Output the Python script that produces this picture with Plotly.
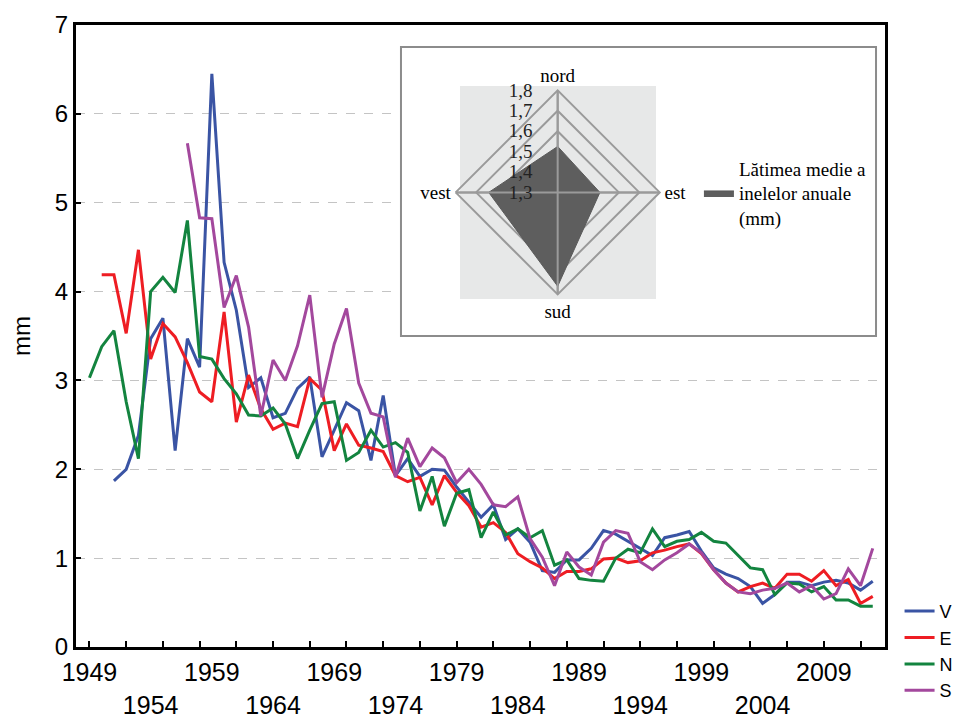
import plotly.graph_objects as go

years = list(range(1949, 2014))

V = [None, None, 1.87, 2.00, 2.38, 3.47, 3.70, 2.21, 3.47, 3.15,
     6.45, 4.33, 3.79, 2.92, 3.03, 2.58, 2.63, 2.91, 3.04, 2.14,
     2.44, 2.75, 2.66, 2.10, 2.83, 1.93, 2.12, 1.92, 2.00, 1.99,
     1.80, 1.63, 1.46, 1.60, 1.21, 1.33, 1.18, 0.86, 0.84, 0.98,
     0.98, 1.11, 1.31, 1.27, 1.19, 1.11, 1.03, 1.23, 1.26, 1.30,
     1.08, 0.89, 0.82, 0.77, 0.68, 0.49, 0.59, 0.73, 0.73, 0.69,
     0.73, 0.75, 0.72, 0.64, 0.74]

E = [None, 4.19, 4.19, 3.53, 4.47, 3.24, 3.64, 3.49, 3.20, 2.87,
     2.76, 3.77, 2.53, 3.06, 2.68, 2.45, 2.52, 2.48, 3.02, 2.89,
     2.21, 2.51, 2.27, 2.24, 2.20, 1.93, 1.86, 1.91, 1.60, 1.93,
     1.74, 1.59, 1.35, 1.40, 1.29, 1.05, 0.96, 0.89, 0.77, 0.85,
     0.85, 0.88, 0.99, 1.00, 0.95, 0.97, 1.06, 1.09, 1.13, 1.16,
     1.05, 0.87, 0.72, 0.62, 0.68, 0.72, 0.66, 0.82, 0.82, 0.74,
     0.86, 0.69, 0.76, 0.49, 0.57]

N = [3.03, 3.38, 3.56, 2.76, 2.12, 4.00, 4.16, 3.99, 4.80, 3.27,
     3.24, 3.02, 2.85, 2.61, 2.60, 2.69, 2.51, 2.12, 2.44, 2.74,
     2.76, 2.10, 2.19, 2.44, 2.25, 2.30, 2.19, 1.53, 1.92, 1.36,
     1.73, 1.77, 1.23, 1.52, 1.26, 1.33, 1.23, 1.31, 0.92, 0.98,
     0.77, 0.75, 0.74, 1.00, 1.10, 1.06, 1.33, 1.13, 1.19, 1.21,
     1.29, 1.19, 1.17, 1.03, 0.89, 0.87, 0.59, 0.72, 0.71, 0.62,
     0.68, 0.53, 0.53, 0.46, 0.46]

S = [None, None, None, None, None, None, None, None, 5.67, 4.83,
     4.82, 3.82, 4.18, 3.60, 2.60, 3.23, 3.00, 3.39, 3.96, 2.81,
     3.41, 3.81, 2.97, 2.63, 2.59, 1.91, 2.35, 2.03, 2.24, 2.13,
     1.85, 2.00, 1.83, 1.60, 1.58, 1.69, 1.22, 1.01, 0.69, 1.07,
     0.90, 0.81, 1.18, 1.31, 1.28, 0.96, 0.87, 0.98, 1.06, 1.16,
     1.06, 0.87, 0.72, 0.62, 0.60, 0.64, 0.66, 0.72, 0.62, 0.69,
     0.54, 0.60, 0.88, 0.69, 1.11]

series_names = ["V", "E", "N", "S"]
series_colors = ["#3A54A4", "#EE1D23", "#13843F", "#A3489D"]

tick_years = list(range(1949, 2014, 3))
label_years = list(range(1949, 2014, 5))
label_text = [str(y) if i % 2 == 0 else "<br>" + str(y)
              for i, y in enumerate(label_years)]

radar_dirs = ["nord", "est", "sud", "vest"]
radar_vals = [1.525, 1.507, 1.76, 1.638]
radar_name = "Lătimea medie a<br>inelelor anuale<br>(mm)"
radar_ticks = [1.3, 1.4, 1.5, 1.6, 1.7, 1.8]

SANS = "Liberation Sans, Arial, sans-serif"
SERIF = "Liberation Serif, Times New Roman, serif"

fig = go.Figure()
for name, vals, col in zip(series_names, [V, E, N, S], series_colors):
    fig.add_trace(go.Scatter(x=years, y=vals, name=name, mode="lines",
                             line=dict(color=col, width=3),
                             connectgaps=False))

# radar inset
fig.add_trace(go.Scatterpolar(
    r=radar_vals + radar_vals[:1], theta=radar_dirs + radar_dirs[:1],
    fill="toself", fillcolor="#5E5E5E", mode="lines",
    line=dict(color="#5A5A5A", width=1), name=radar_name,
    legend="legend2", subplot="polar"))
rmin, rmax = radar_ticks[0], radar_ticks[-1]
fig.add_trace(go.Scatterpolar(
    r=[rmax, rmin, rmax, None, rmax, rmin, rmax],
    theta=[radar_dirs[0], radar_dirs[0], radar_dirs[2], None,
           radar_dirs[3], radar_dirs[3], radar_dirs[1]],
    mode="lines", line=dict(color="#9A9A9A", width=2),
    showlegend=False, hoverinfo="skip", subplot="polar"))

xr = [1947.9, 2014.0]
yr = [0, 7]


def fx(f):
    return xr[0] + f * (xr[1] - xr[0])


def fy(f):
    return yr[0] + f * (yr[1] - yr[0])


fig.update_layout(
    width=955, height=712,
    margin=dict(l=68, r=78, t=17, b=73, autoexpand=False),
    paper_bgcolor="white", plot_bgcolor="white",
    separators=", ",
    font=dict(family=SANS, size=22, color="black"),
    xaxis=dict(range=xr, tickmode="array", tickvals=label_years,
               ticktext=label_text, ticks="", tickfont=dict(size=25),
               ticklabelstandoff=1,
               minor=dict(tickmode="array", tickvals=tick_years,
                          ticks="inside", ticklen=6, tickwidth=2,
                          tickcolor="black", showgrid=False),
               showline=True, linecolor="black", linewidth=3, mirror=True,
               showgrid=False, zeroline=False, automargin=False),
    yaxis=dict(range=yr, tickmode="linear", tick0=0, dtick=1,
               ticks="inside", ticklen=5, tickwidth=2, tickcolor="black",
               showline=True, linecolor="black", linewidth=3, mirror=True,
               showgrid=True, gridcolor="#C4C4C4", griddash="dash", gridwidth=1,
               zeroline=False, tickfont=dict(size=24), automargin=False,
               title=dict(text="mm", font=dict(size=24), standoff=22)),
    legend=dict(x=1.018, y=0.087, xanchor="left", yanchor="top",
                font=dict(family=SANS, size=18), bgcolor="rgba(0,0,0,0)",
                tracegroupgap=0),
    legend2=dict(x=0.770, y=0.80, xanchor="left", yanchor="top",
                 font=dict(family=SERIF, size=19, color="black"),
                 bgcolor="rgba(0,0,0,0)"),
    polar=dict(
        domain=dict(x=[0.4693, 0.7215], y=[0.5668, 0.8950]),
        bgcolor="rgba(0,0,0,0)", gridshape="linear",
        angularaxis=dict(rotation=90, direction="clockwise",
                         categoryorder="array", categoryarray=radar_dirs,
                         showline=True, linecolor="#9A9A9A", linewidth=2,
                         showgrid=True, gridcolor="#9A9A9A", gridwidth=2,
                         ticks="", tickfont=dict(family=SERIF, size=19,
                                                 color="black")),
        radialaxis=dict(range=[rmin, rmax], tickmode="array",
                        tickvals=radar_ticks, angle=90, tickangle=90,
                        side="counterclockwise", showline=False,
                        ticks="outside", ticklen=18,
                        tickcolor="rgba(0,0,0,0)",
                        showgrid=True, gridcolor="#9A9A9A", gridwidth=2,
                        tickfont=dict(family=SERIF, size=19, color="#222"))),
    shapes=[
        dict(type="rect", xref="x", yref="y",
             x0=fx(0.4017), x1=fx(0.9889), y0=fy(0.4998), y1=fy(0.9646),
             fillcolor="white", line=dict(color="#8C8C8C", width=2),
             layer="between"),
        dict(type="rect", xref="x", yref="y",
             x0=fx(0.4747), x1=fx(0.7169), y0=fy(0.5593), y1=fy(0.9019),
             fillcolor="#E7E8E8", line=dict(width=0), layer="between"),
    ],
)

fig.write_html("out.html")
